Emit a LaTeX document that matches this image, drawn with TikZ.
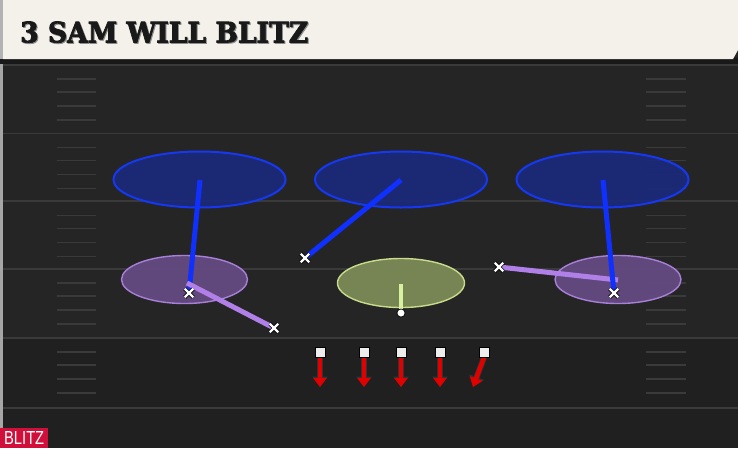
\documentclass[tikz,border=0pt]{standalone}
\usepackage{fontspec}
\usetikzlibrary{shapes.geometric,shapes.misc,arrows.meta}
\newfontfamily\titlefont[FakeBold=2.5]{DejaVu Serif Condensed}
\newfontfamily\tagfont{Liberation Sans}
\definecolor{field}{HTML}{252525}
\definecolor{fieldlow}{HTML}{202020}
\definecolor{yardline}{HTML}{3A3A3A}
\definecolor{hashc}{HTML}{3A3A3A}
\definecolor{header}{HTML}{F4F1EA}
\definecolor{zoneblue}{HTML}{1A2A80}
\definecolor{zoneblueline}{HTML}{1538F0}
\definecolor{routeblue}{HTML}{1030FF}
\definecolor{zonepurple}{HTML}{644A82}
\definecolor{zonepurpleline}{HTML}{A880D8}
\definecolor{routepurple}{HTML}{B080E8}
\definecolor{zonegreen}{HTML}{7A8856}
\definecolor{zonegreenline}{HTML}{C8DC8C}
\definecolor{routegreen}{HTML}{D8F0A0}
\definecolor{blitzred}{HTML}{E00000}
\definecolor{tagred}{HTML}{D0103A}
\begin{document}
\begin{tikzpicture}[x=1pt,y=-1pt,
  deepzone/.style={ellipse,draw=zoneblueline,line width=2pt,fill=zoneblue,fill opacity=0.88,draw opacity=1,minimum width=172pt,minimum height=56pt,inner sep=0pt},
  purplezone/.style={ellipse,draw=zonepurpleline,line width=1.4pt,fill=zonepurple,fill opacity=0.95,minimum width=126pt,minimum height=48pt,inner sep=0pt},
  greenzone/.style={ellipse,draw=zonegreenline,line width=1.4pt,fill=zonegreen,fill opacity=0.97,minimum width=127pt,minimum height=49pt,inner sep=0pt},
  defender/.style={cross out,draw=white,line width=2.4pt,minimum size=6pt,inner sep=0pt,preaction={draw=black,line width=3.8pt}},
  lineman/.style={rectangle,draw=black,line width=0.9pt,fill=white!93!black,minimum size=10pt,inner sep=0pt},
  bluerte/.style={draw=routeblue,line width=5pt},
  purplerte/.style={draw=routepurple,line width=5pt},
  greenrte/.style={draw=routegreen,line width=4.5pt},
  rush/.style={draw=blitzred,line width=4.5pt,-{Triangle[width=13pt,length=9pt]}},
  rushout/.style={draw=black!80,line width=6pt,-{Triangle[width=15pt,length=10.5pt]}},
  yard/.style={draw=yardline,line width=1.5pt},
  hash/.style={draw=hashc,line width=1.3pt}]
\useasboundingbox (0,0) rectangle (738,448);
% field
\fill[field] (0,0) rectangle (738,448);
\fill[fieldlow] (0,338) rectangle (738,448);
\fill[black!35] (0,60) rectangle (3,448);
% yard lines
\foreach \y in {65,133.6,201.2,269,338,408} {\draw[yard] (3,\y) -- (738,\y);}
% hash marks
\foreach \b in {65,133.6,201.2,269,338} {
  \foreach \o in {14,27,41,55} {
    \draw[hash] (57,\b+\o) -- (96,\b+\o);
    \draw[hash] (646,\b+\o) -- (686,\b+\o);
  }
}
% header
\fill[black!90] (0,58) rectangle (738,64);
\fill[black!30] (0,0) rectangle (4,59);
\fill[header] (3,0) -- (738,0) -- (738,50) -- (733,59) -- (3,59) -- cycle;
\node[anchor=south west,inner sep=0pt,text=black!45] (titleshadow) at (21,44) {\resizebox{288pt}{21pt}{\titlefont\bfseries 3 SAM WILL BLITZ}};
\node[anchor=south west,inner sep=0pt,text=black!90] (title) at (20,43) {\resizebox{288pt}{21pt}{\titlefont\bfseries 3 SAM WILL BLITZ}};
% zones
\node[deepzone] (zoneL) at (199.5,179.5) {};
\node[deepzone] (zoneM) at (401,179.5) {};
\node[deepzone] (zoneR) at (602.5,179.5) {};
\node[purplezone] (flatL) at (184.5,279.5) {};
\node[purplezone] (flatR) at (618,279.5) {};
\node[greenzone] (hook) at (401,283) {};
% route anchors
\coordinate (zLs) at (200,180);
\coordinate (zMs) at (401,180);
\coordinate (zRs) at (603,180);
\coordinate (fLs) at (187,283);
\coordinate (fRs) at (618,280);
\coordinate (hs) at (401,284);
% defenders
\node[defender] (cbL) at (189,293) {};
\node[defender] (olbL) at (274,328) {};
\node[defender] (fs) at (305,258) {};
\node[defender] (olbR) at (499,267) {};
\node[defender] (cbR) at (614,293) {};
\node[circle,fill=white,draw=black,line width=0.6pt,minimum size=8pt,inner sep=0pt] (mlb) at (401,313) {};
% routes
\draw[bluerte] (zLs) -- (cbL.center);
\draw[bluerte] (zMs) -- (fs.center);
\draw[purplerte] (fLs) -- (olbL.center);
\draw[purplerte] (fRs) -- (olbR.center);
\draw[bluerte] (zRs) -- (cbR.center);
\draw[greenrte] (hs) -- (mlb.north);
% redraw markers on top
\node[defender] at (cbL) {};
\node[defender] at (olbL) {};
\node[defender] at (fs) {};
\node[defender] at (olbR) {};
\node[defender] at (cbR) {};
\node[circle,fill=white,draw=black,line width=0.6pt,minimum size=8pt,inner sep=0pt] at (mlb) {};
% rushers
\foreach \n/\x/\ex in {r1/320/320,r2/364/364,r3/401/401,r4/440/440,r5/484/473} {
  \node[lineman] (\n) at (\x,352) {};
  \coordinate (\n e) at (\ex,387);
  \draw[rushout] (\n.south) -- (\n e);
  \draw[rush] (\n.south) -- (\n e);
  \node[lineman] at (\n) {};
}
% tag
\node[anchor=south west,fill=tagred,minimum width=48pt,minimum height=20pt,inner sep=0pt,text=white] (tag) at (0,448) {\resizebox{40pt}{13pt}{\tagfont BLITZ}};
\end{tikzpicture}
\end{document}
